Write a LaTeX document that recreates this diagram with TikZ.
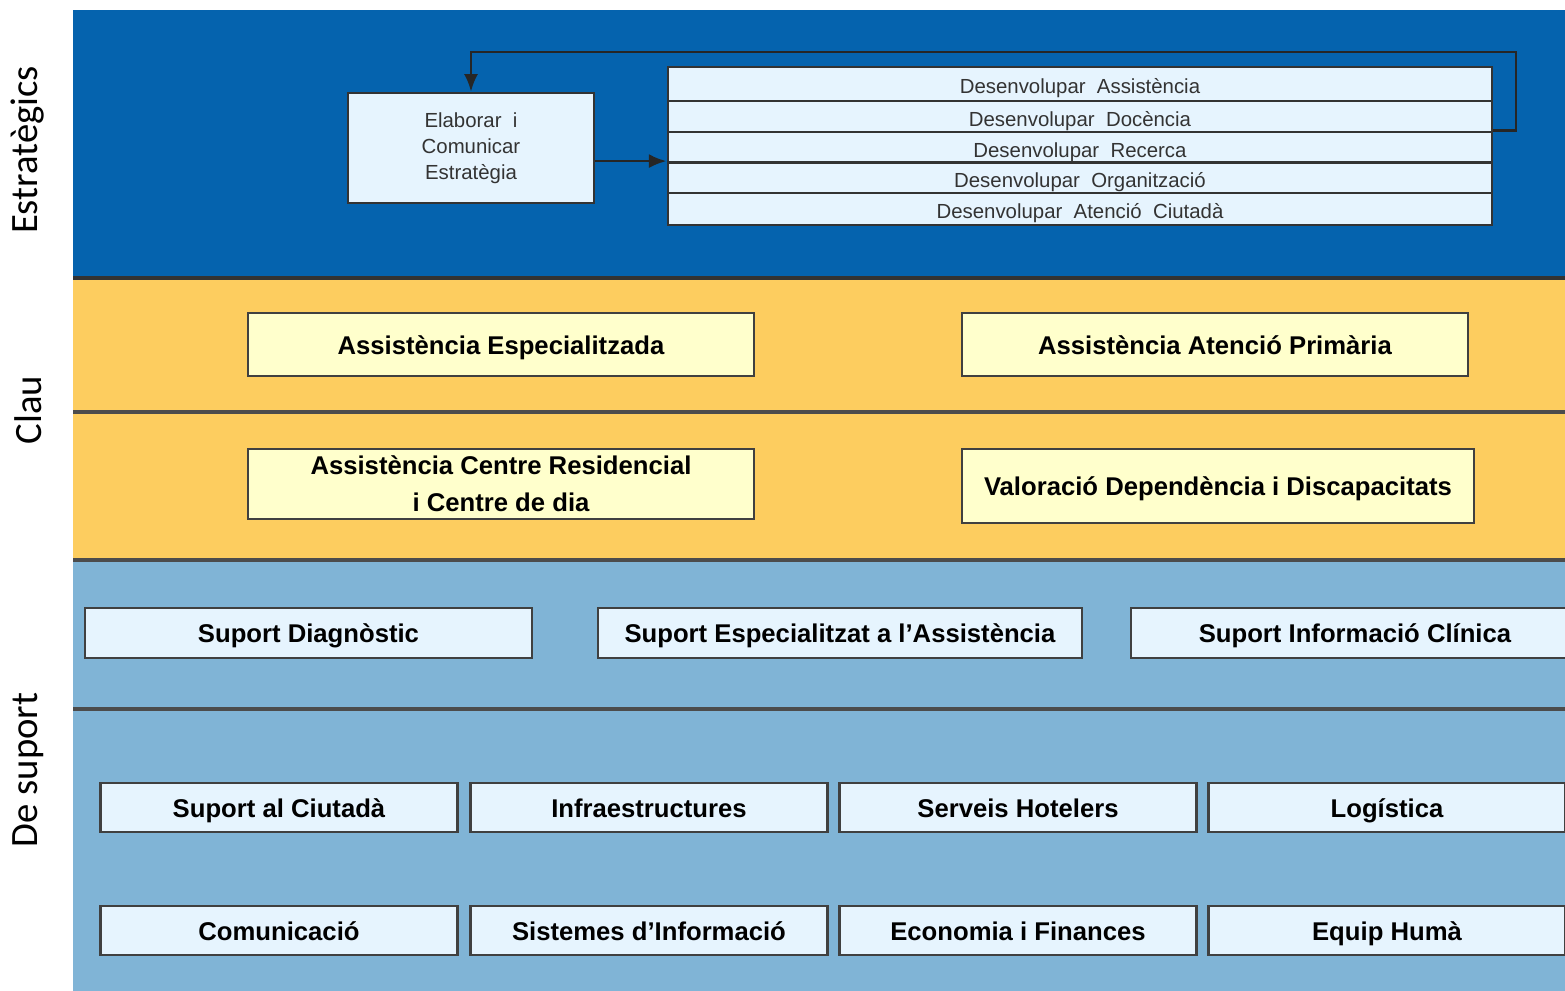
\documentclass[tikz,border=0pt]{standalone}
\usepackage{fontspec}
\setmainfont{Liberation Sans}
\newfontfamily\sidefont{Carlito}
\usetikzlibrary{arrows.meta}
\definecolor{estblue}{HTML}{0563AE}
\definecolor{claufill}{HTML}{FDCD5F}
\definecolor{supfill}{HTML}{80B4D6}
\definecolor{boxblue}{HTML}{E6F4FE}
\definecolor{keyfill}{HTML}{FFFFCC}
\begin{document}
\begin{tikzpicture}[x=0.01cm, y=-0.01cm,
    bandline/.style={draw=black!70, line width=1pt},
    sidelabel/.style={rotate=90, font=\sidefont\fontsize{11}{13}\selectfont},
    stratbox/.style={draw=black!80, line width=0.7pt, fill=boxblue, text=black!80,
      font=\fontsize{5.8}{7.4}\selectfont, align=center, inner sep=0pt},
    rowbox/.style={stratbox, minimum width=8.24cm,
      text height=0.72em, text depth=0.2em},
    keybox/.style={draw=black!75, line width=0.7pt, fill=keyfill, align=center,
      font=\bfseries\fontsize{7.3}{10.5}\selectfont, inner sep=0pt},
    supbox/.style={draw=black!75, line width=0.7pt, fill=boxblue,
      font=\bfseries\fontsize{7.3}{9}\selectfont, inner sep=0pt,
      text height=0.75em, text depth=0.2em},
    arr/.style={-{Latex[length=5pt,width=4pt]}, line width=0.8pt, black!85}]
  \useasboundingbox (0,0) rectangle (1565,991);
  \fill[white] (0,0) rectangle (1565,991);
  % bands
  \fill[estblue] (73,10) rectangle (1565,278);
  \fill[claufill] (73,278) rectangle (1565,560);
  \fill[supfill] (73,560) rectangle (1565,991);
  \draw[bandline, line width=1.3pt, draw=black!80] (73,278) -- (1565,278);
  \draw[bandline] (73,412) -- (1565,412);
  \draw[bandline] (73,560) -- (1565,560);
  \draw[bandline] (73,709) -- (1565,709);
  % side labels
  \node[sidelabel] (lest) at (28,150) {Estratègics};
  \node[sidelabel] (lclau) at (28,410) {Clau};
  \node[sidelabel] (lsup) at (28,770) {De suport};
  % estrategics
  \node[stratbox, minimum width=2.46cm, minimum height=1.10cm] (elab) at (471,148)
    {Elaborar\ \ i\\Comunicar\\Estratègia};
  \node[rowbox, minimum height=0.34cm] (d1) at (1080,84) {Desenvolupar\ \ Assistència};
  \node[rowbox, minimum height=0.32cm] (d2) at (1080,117) {Desenvolupar\ \ Docència};
  \node[rowbox, minimum height=0.30cm] (d3) at (1080,148) {Desenvolupar\ \ Recerca};
  \node[rowbox, minimum height=0.31cm] (d4) at (1080,178.5) {Desenvolupar\ \ Organització};
  \node[rowbox, minimum height=0.30cm] (d5) at (1080,209) {Desenvolupar\ \ Atenció\ \ Ciutadà};
  \draw[arr] (elab.east |- d4.north) -- (d4.north west);
  \draw[arr] (d3.north east) -| (1516,52) -| (elab.north);
  % clau
  \node[keybox, minimum width=5.06cm, minimum height=0.63cm, text height=0.75em, text depth=0.2em] (aesp) at (501,344.5) {Assistència Especialitzada};
  \node[keybox, minimum width=5.06cm, minimum height=0.63cm, text height=0.75em, text depth=0.2em] (aprim) at (1215,344.5) {Assistència Atenció Primària};
  \node[keybox, minimum width=5.06cm, minimum height=0.70cm] (aresi) at (501,484) {Assistència Centre Residencial\\i Centre de dia};
  \node[keybox, minimum width=5.12cm, minimum height=0.74cm, text height=0.75em, text depth=0.2em] (valor) at (1218,486) {Valoració Dependència i Discapacitats};
  % de suport
  \node[supbox, minimum width=4.47cm, minimum height=0.50cm] (sdiag) at (308.5,633) {Suport Diagnòstic};
  \node[supbox, minimum width=4.84cm, minimum height=0.50cm] (sesp) at (840,633) {Suport Especialitzat a l’Assistència};
  \node[supbox, minimum width=4.48cm, minimum height=0.50cm] (sinfo) at (1355,633) {Suport Informació Clínica};
  \node[supbox, minimum width=3.57cm, minimum height=0.49cm] (sciut) at (279,807.5) {Suport al Ciutadà};
  \node[supbox, minimum width=3.57cm, minimum height=0.49cm] (infra) at (649,807.5) {Infraestructures};
  \node[supbox, minimum width=3.57cm, minimum height=0.49cm] (hotel) at (1018,807.5) {Serveis Hotelers};
  \node[supbox, minimum width=3.57cm, minimum height=0.49cm] (logis) at (1387,807.5) {Logística};
  \node[supbox, minimum width=3.57cm, minimum height=0.49cm] (comun) at (279,930.5) {Comunicació};
  \node[supbox, minimum width=3.57cm, minimum height=0.49cm] (sistm) at (649,930.5) {Sistemes d’Informació};
  \node[supbox, minimum width=3.57cm, minimum height=0.49cm] (econ) at (1018,930.5) {Economia i Finances};
  \node[supbox, minimum width=3.57cm, minimum height=0.49cm] (equip) at (1387,930.5) {Equip Humà};
\end{tikzpicture}
\end{document}
